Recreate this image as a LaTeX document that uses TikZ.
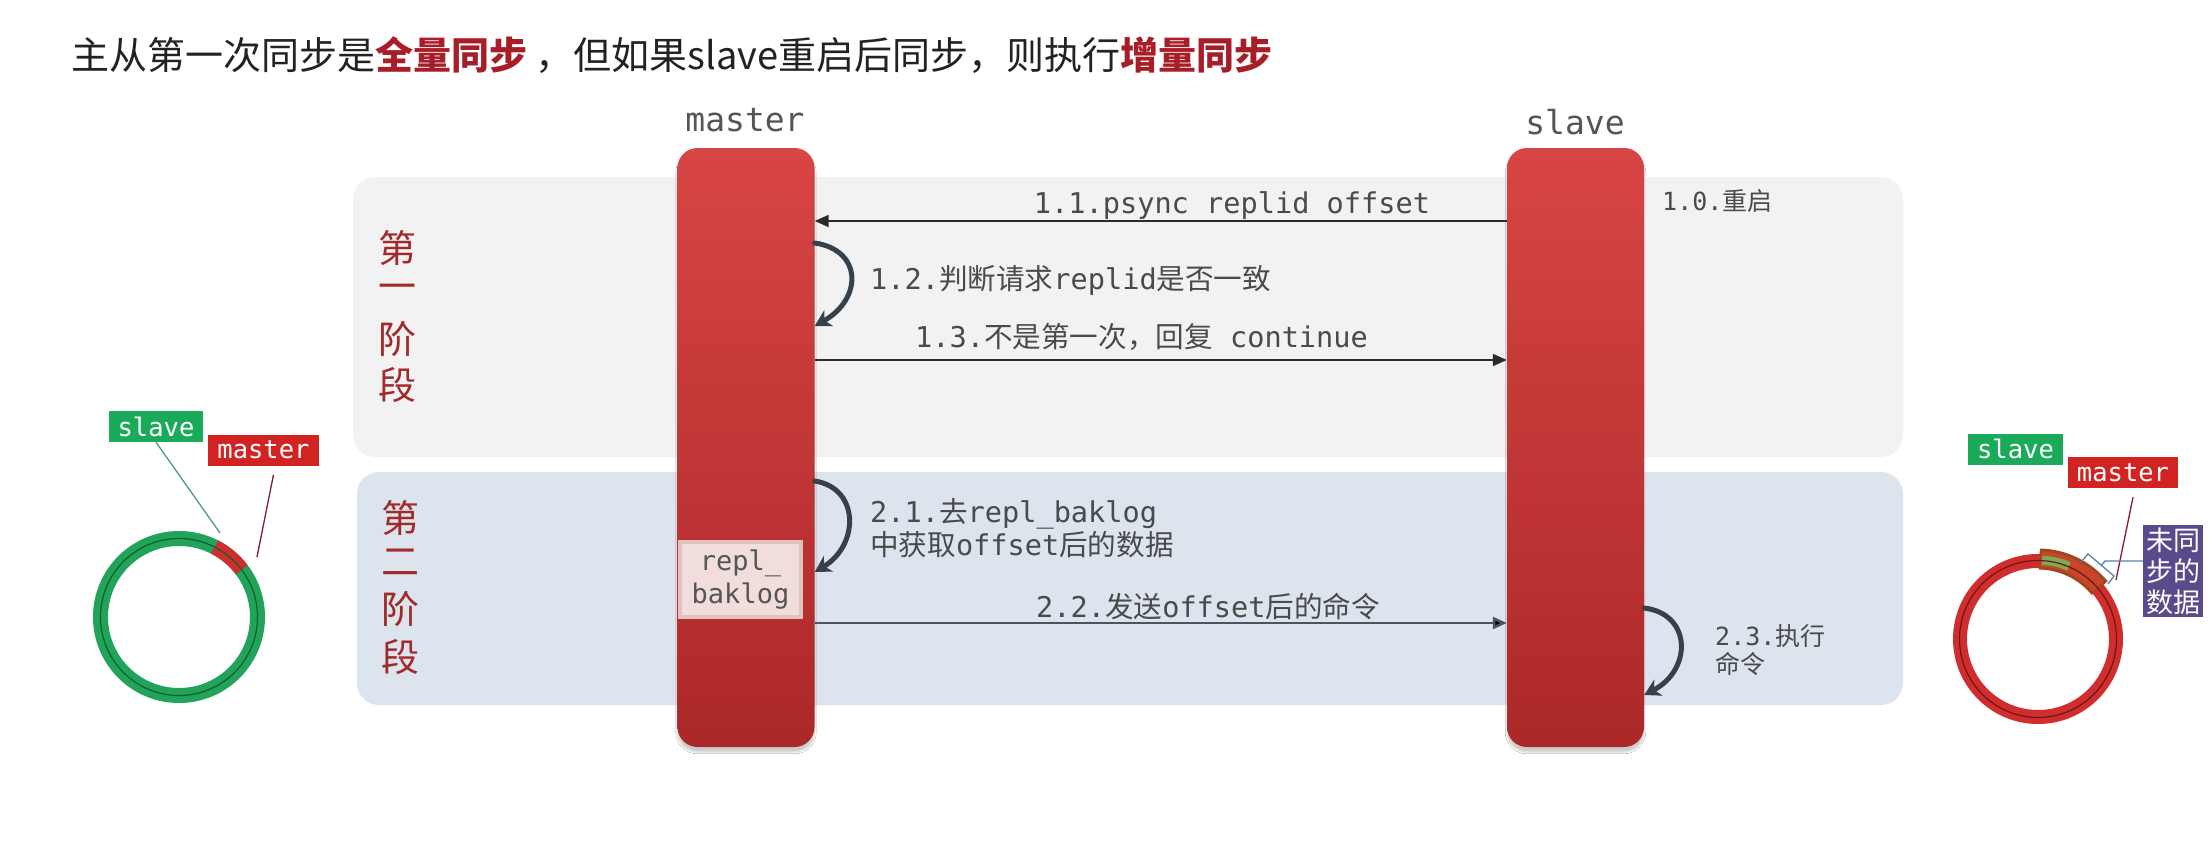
\documentclass[tikz,border=0pt]{standalone}
\usepackage{fontspec}
\usetikzlibrary{arrows.meta,shadows.blur}
\newfontfamily\cjk{Noto Sans CJK SC}
\newfontfamily\mono{DejaVu Sans Mono}
\newcommand\zht[1]{{\cjk #1}}
\definecolor{titlec}{HTML}{222222}
\definecolor{tred}{HTML}{A81E28}
\definecolor{phA}{HTML}{F2F2F2}
\definecolor{phB}{HTML}{DCE4EE}
\definecolor{barTop}{HTML}{D84545}
\definecolor{barBot}{HTML}{AC2828}
\definecolor{lblc}{HTML}{4A4A4A}
\definecolor{hdrc}{HTML}{555555}
\definecolor{arrc}{HTML}{2A2A2A}
\definecolor{arrB}{HTML}{4A5560}
\definecolor{loopc}{HTML}{37414B}
\definecolor{phtxt}{HTML}{A32A2A}
\definecolor{ringG}{HTML}{22A35A}
\definecolor{ringGd}{HTML}{0F5F33}
\definecolor{ringR}{HTML}{D02E2E}
\definecolor{ringRd}{HTML}{8A1C1C}
\definecolor{boxG}{HTML}{19AA5A}
\definecolor{boxR}{HTML}{D22323}
\definecolor{lineG}{HTML}{4E9A86}
\definecolor{lineR}{HTML}{8B1A2A}
\definecolor{segBrown}{HTML}{A0461E}
\definecolor{segOr}{HTML}{C8452A}
\definecolor{segGr}{HTML}{7AAE55}
\definecolor{purp}{HTML}{5A4A8C}
\definecolor{braceB}{HTML}{4F86B0}
\definecolor{rbox}{HTML}{F1DEDC}
\definecolor{rboxd}{HTML}{E0C2BF}
\begin{document}
\begin{tikzpicture}[x=1pt,y=-1pt,
  bar/.style={rectangle, rounded corners=20, minimum width=137, minimum height=599, inner sep=0,
    top color=barTop, bottom color=barBot, draw=none,
    blur shadow={shadow xshift=0pt, shadow yshift=-5pt, shadow opacity=20, shadow blur steps=6}},
  msg/.style={draw=arrc, line width=1.8, -{Triangle[length=14,width=12]}},
  msgb/.style={draw=arrB, line width=2.6, -{Triangle[length=14,width=12,fill=black]}},
  selfloop/.style={draw=loopc, line width=5, line cap=round, -{Stealth[length=16,width=18,inset=5]}},
  lbl/.style={text=lblc, inner sep=0, font=\mono\fontsize{28.6}{34}\selectfont},
  slbl/.style={text=lblc, inner sep=0, font=\mono\fontsize{25}{30}\selectfont, align=left},
  hdr/.style={text=hdrc, inner sep=0, font=\mono\fontsize{33}{38}\selectfont},
  phch/.style={text=phtxt, inner sep=0, font=\cjk\fontsize{38}{44}\selectfont},
  ringlbl/.style={font=\mono\fontsize{25.5}{30}\selectfont, text=white, inner sep=0, minimum height=31}
]
\useasboundingbox (0,0) rectangle (2212,849);
\fill[white] (0,0) rectangle (2212,849);

% title
\node[anchor=base west, inner sep=0, font=\cjk\fontsize{38}{44}\selectfont, text=titlec] (title) at (71,69)
  {主从第一次同步是\textcolor{tred}{\bfseries 全量同步} ，但如果slave重启后同步，则执行\textcolor{tred}{\bfseries 增量同步}};

% phase backgrounds
\fill[phA, rounded corners=22] (353,177) rectangle (1903,457);
\fill[phB, rounded corners=22] (357,472) rectangle (1903,705);

% phase labels
\foreach \ch/\yy [count=\i] in {第/248,一/292,阶/339,段/385}
  \node[phch] (pa\i) at (397,\yy) {\ch};
\foreach \ch/\yy [count=\i] in {第/518,二/562,阶/609,段/657}
  \node[phch] (pb\i) at (400,\yy) {\ch};

% bars
\node[bar] (mbar) at (746,447.5) {};
\node[bar] (sbar) at (1575.5,447.5) {};
\node[hdr, anchor=base] (mhdr) at (745,131) {master};
\node[hdr, anchor=base] (shdr) at (1575,134) {slave};

% repl_baklog box
\node[fill=rbox, draw=rboxd, line width=4, minimum width=121, minimum height=75, inner sep=0,
      align=center, text=hdrc, font=\mono\fontsize{27}{33}\selectfont] (rb) at (740.5,579.5) {repl\_\\baklog};

% messages
\draw[msg] (sbar.west |- 0,221) -- (mbar.east |- 0,221);
\draw[msg] (mbar.east |- 0,360) -- (sbar.west |- 0,360);
\draw[msgb] (mbar.east |- 0,623) -- (sbar.west |- 0,623);

% self loops
\coordinate (m12a) at (mbar.east |- 0,243);
\coordinate (m12b) at (mbar.east |- 0,326);
\draw[selfloop] (m12a) .. controls +(48,7) and +(48,-27) .. (m12b);
\coordinate (m21a) at (mbar.east |- 0,481);
\coordinate (m21b) at (mbar.east |- 0,572);
\draw[selfloop] (m21a) .. controls +(45,7) and +(45,-27) .. (m21b);
\coordinate (s23a) at (sbar.east |- 0,608);
\coordinate (s23b) at (sbar.east |- 0,695);
\draw[selfloop] (s23a) .. controls +(48,6) and +(48,-25) .. (s23b);

% labels
\node[lbl, anchor=base] (l11) at (1232,213) {1.1.psync replid offset};
\node[slbl, anchor=base west] (l10) at (1662,210) {1.0.\zht{重启}};
\node[lbl, anchor=base west] (l12) at (870,289) {1.2.\zht{判断请求}replid\zht{是否一致}};
\node[lbl, anchor=base west] (l13) at (915,347) {1.3.\zht{不是第一次，回复} continue};
\node[lbl, anchor=base west] (l21a) at (870,522) {2.1.\zht{去}repl\_baklog};
\node[lbl, anchor=base west] (l21b) at (870,555) {\zht{中获取}offset\zht{后的数据}};
\node[lbl, anchor=base west] (l22) at (1036,617) {2.2.\zht{发送}offset\zht{后的命令}};
\node[slbl, anchor=base west] (l23a) at (1715,645) {2.3.\zht{执行}};
\node[slbl, anchor=base west] (l23b) at (1715,673) {\zht{命令}};

% left ring
\coordinate (lc) at (179,617);
\draw[ringG, line width=15] (lc) circle[radius=78.5];
\draw[ringR, line width=15] (lc) ++(-37:78.5) arc[start angle=-37, end angle=-63, radius=78.5];
\draw[ringGd, line width=1.2] (lc) circle[radius=78.5];
\node[ringlbl, fill=boxG, minimum width=94] (lsl) at (156,426.5) {slave};
\node[ringlbl, fill=boxR, minimum width=111] (lms) at (263.5,450) {master};
\coordinate (lslend) at (220,533);
\coordinate (lmsend) at (257,557);
\draw[lineG, line width=1.3] (lsl.south) -- (lslend);
\draw[lineR, line width=1.3] ([xshift=10]lms.south) ++(0,9) -- (lmsend);

% right ring
\coordinate (rc) at (2038,639);
\draw[ringR, line width=14] (rc) circle[radius=78];
\draw[segBrown, line width=21] (rc) ++(-39.5:80) arc[start angle=-39.5, end angle=-89, radius=80];
\draw[segOr, line width=15] (rc) ++(-41:80) arc[start angle=-41, end angle=-87.5, radius=80];
\draw[segGr, line width=9] (rc) ++(-67:79) arc[start angle=-67, end angle=-87, radius=79];
\draw[ringRd!80!black, line width=1.2] (rc) circle[radius=78.5];
\node[ringlbl, fill=boxG, minimum width=95] (rsl) at (2015.5,449) {slave};
\node[ringlbl, fill=boxR, minimum width=110] (rms) at (2123,472.5) {master};
\coordinate (rmsend) at (2116,580);
\draw[lineR, line width=1.3] ([xshift=10]rms.south) ++(0,9) -- (rmsend);
\node[fill=purp, text=white, minimum width=60, minimum height=92, inner sep=0, align=center,
      font=\cjk\fontsize{27}{31}\selectfont] (unsync) at (2173,571) {未同\\步的\\数据};
\coordinate (brA) at (2081,562);
\coordinate (brB) at (2108,584);
\draw[braceB, line width=1.3] (brA) -- (2088,554) -- (2114,576) -- (brB);
\draw[braceB, line width=1.3] (2101,566) -- (2105,561) -- (unsync.west |- 0,561);
\end{tikzpicture}
\end{document}
